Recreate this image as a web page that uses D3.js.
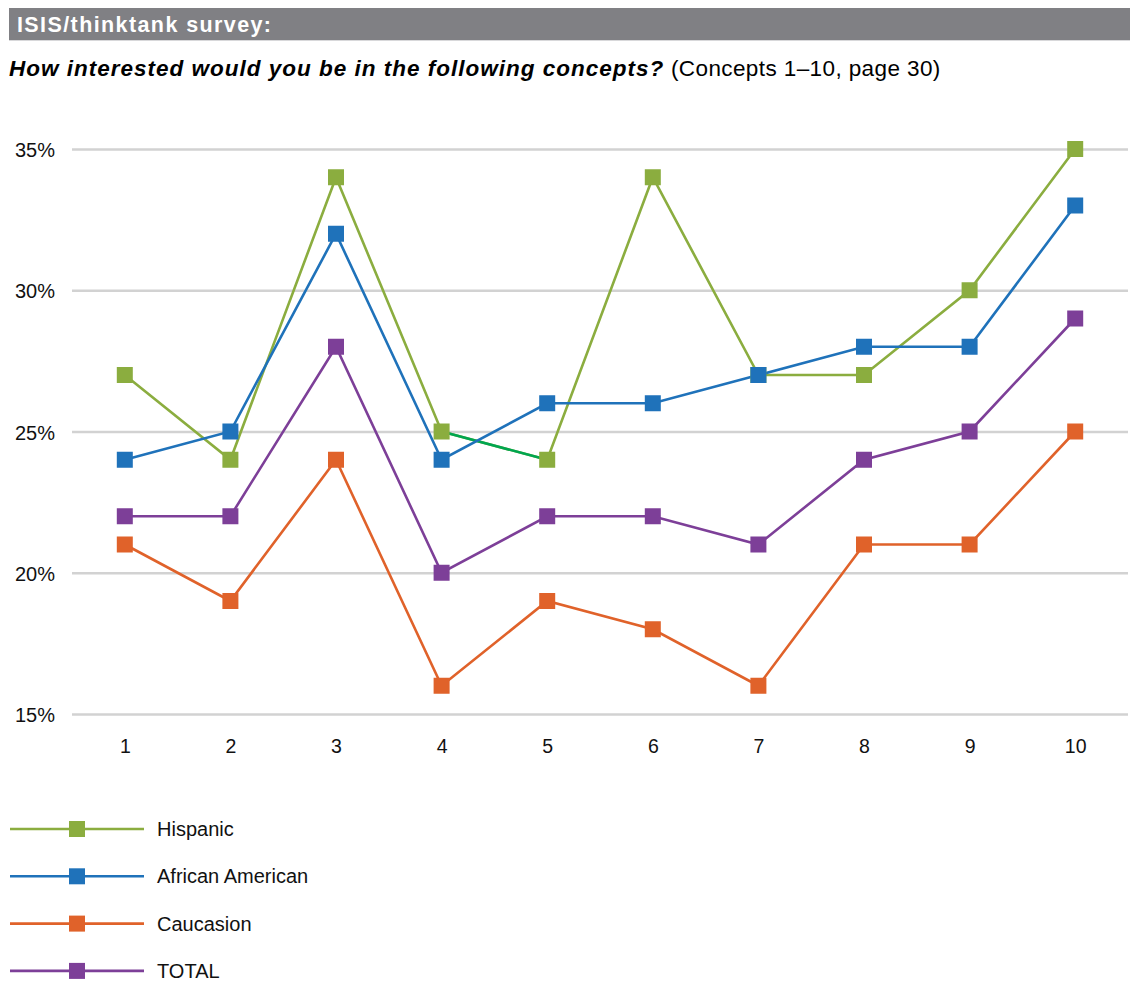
<!DOCTYPE html>
<html><head><meta charset="utf-8">
<script src="https://cdn.jsdelivr.net/npm/d3@7"></script>
<style>
html,body{margin:0;padding:0;background:#fff;}
svg{display:block;font-family:"Liberation Sans",Arial,Helvetica,sans-serif;}
</style></head>
<body>
<script>
const categories = ["1","2","3","4","5","6","7","8","9","10"];
const seriesNames = ["Hispanic","African American","Caucasion","TOTAL"];
const hispanic = [27,24,34,25,24,34,27,27,30,35];
const africanAmerican = [24,25,32,24,26,26,27,28,28,33];
const caucasion = [21,19,24,16,19,18,16,21,21,25];
const total = [22,22,28,20,22,22,21,24,25,29];
const yTicks = [15,20,25,30,35];
const colors = ["#8BAD3F","#1F72BA","#E0622A","#7D3F98"];
const highlightSegment = {series:0, from:3, to:4, color:"#00A650"};
const seriesValues = [hispanic, africanAmerican, caucasion, total];

const W=1136,H=981;
const svg=d3.select("body").append("svg").attr("width",W).attr("height",H);

// header bar
svg.append("rect").attr("x",9).attr("y",8).attr("width",1121).attr("height",32).attr("fill","#808084");
svg.append("line").attr("x1",9).attr("x2",1130).attr("y1",40.5).attr("y2",40.5).attr("stroke","#d8d8da").attr("stroke-width",1);
svg.append("text").attr("x",17).attr("y",32).attr("fill","#fff").attr("font-weight","bold")
  .attr("font-size",21.5).attr("letter-spacing",1.4).text("ISIS/thinktank survey:");

const sub=svg.append("text").attr("x",9).attr("y",76).attr("font-size",22.5).attr("fill","#000");
sub.append("tspan").attr("font-weight","bold").attr("font-style","italic").attr("letter-spacing",1.0)
  .text("How interested would you be in the following concepts?");
sub.append("tspan").attr("letter-spacing",0.4).text(" (Concepts 1\u201310, page 30)");

const x=d3.scalePoint().domain(categories).range([72,1128]).padding(0.5);
const y=d3.scaleLinear().domain([15,35]).range([714,149]);

// grid
const grid=svg.append("g").attr("transform","translate(72,0)")
  .call(d3.axisLeft(y).tickValues(yTicks).tickSize(-(1128-72)).tickFormat(d=>d+"%"));
grid.select(".domain").remove();
grid.selectAll(".tick line").attr("stroke","#d2d2d2").attr("stroke-width",2.5);
grid.selectAll(".tick text").attr("x",-17).attr("dy","0.38em").attr("font-size",20).attr("fill","#111").attr("font-family",null);

const xa=svg.append("g").attr("transform","translate(0,714)")
  .call(d3.axisBottom(x).tickSize(0));
xa.select(".domain").remove();
xa.selectAll(".tick text").attr("y",25).attr("font-size",19.5).attr("fill","#111").attr("font-family",null);

const line=d3.line().x((d,i)=>x(categories[i])).y(d=>y(d));

seriesValues.forEach((vals,si)=>{
  svg.append("path").datum(vals).attr("d",line).attr("fill","none")
    .attr("stroke",colors[si]).attr("stroke-width",2.6);
  if(highlightSegment.series===si){
    const a=highlightSegment.from,b=highlightSegment.to;
    svg.append("line").attr("x1",x(categories[a])).attr("y1",y(vals[a]))
      .attr("x2",x(categories[b])).attr("y2",y(vals[b]))
      .attr("stroke",highlightSegment.color).attr("stroke-width",2.6);
  }
});
seriesValues.forEach((vals,si)=>{
  svg.append("g").selectAll("rect").data(vals).join("rect")
    .attr("x",(d,i)=>x(categories[i])-8).attr("y",d=>y(d)-8)
    .attr("width",16).attr("height",16).attr("fill",colors[si]);
});

// legend
const leg=svg.append("g");
seriesNames.forEach((n,i)=>{
  const yy=829+i*47.3;
  leg.append("line").attr("x1",10).attr("x2",144).attr("y1",yy).attr("y2",yy).attr("stroke",colors[i]).attr("stroke-width",2.6);
  leg.append("rect").attr("x",69).attr("y",yy-8).attr("width",16).attr("height",16).attr("fill",colors[i]);
  leg.append("text").attr("x",157).attr("y",yy+7).attr("font-size",20).attr("fill","#111").text(n);
});
</script>
</body></html>
